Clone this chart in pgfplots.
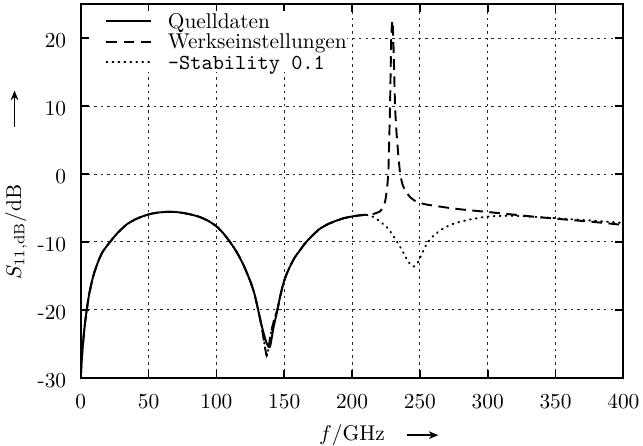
\documentclass[border=0pt]{standalone}
\usepackage{pgfplots}
\pgfplotsset{compat=1.18}
\usetikzlibrary{calc,arrows.meta}

\pgfplotstableread{
f y
0 -30
0.5 -28.2
1 -26.6
1.5 -25.3
2 -24.2
3 -22.2
4.4 -20
6 -17.9
8 -16.0
10 -14.5
13 -12.8
16 -11.5
20 -10.4
24 -9.4
28 -8.5
34 -7.4
40 -6.7
46 -6.2
52 -5.85
58 -5.65
64 -5.57
70 -5.6
76 -5.75
82 -6.0
88 -6.35
94 -6.9
100 -7.7
105 -8.7
110 -10.0
115 -11.5
120 -13.4
125 -15.8
128 -17.6
131 -20.2
134 -22.8
137 -24.9
139.5 -25.4
142 -22.7
145 -20.0
147 -18.0
149.5 -16.0
152 -14.6
155 -13.3
158 -12.2
161.7 -11.2
165 -10.3
170 -9.2
176 -8.1
182 -7.4
188 -6.9
194 -6.5
200 -6.25
205 -6.1
210 -6.0
}\quelle

\pgfplotstableread{
f y
0 -30
0.5 -28.2
1 -26.6
1.5 -25.3
2 -24.2
3 -22.2
4.4 -20
6 -17.9
8 -16.0
10 -14.5
13 -12.8
16 -11.5
20 -10.4
24 -9.4
28 -8.5
34 -7.4
40 -6.7
46 -6.2
52 -5.85
58 -5.65
64 -5.57
70 -5.6
76 -5.75
82 -6.0
88 -6.35
94 -6.9
100 -7.7
105 -8.7
110 -10.0
115 -11.5
120 -13.4
125 -15.8
128 -17.6
131 -20.2
134 -23.2
137.1 -26.7
140 -23.6
142.5 -21.5
145 -19.9
147 -18.0
149.5 -16.0
152 -14.6
155 -13.3
158 -12.2
161.7 -11.2
165 -10.3
170 -9.2
176 -8.1
182 -7.4
188 -6.9
194 -6.5
200 -6.25
205 -6.1
210 -6.0
213 -6.0
217 -5.8
220.6 -5.5
222.5 -5.0
224.3 -4.1
225 -3.3
226 -1.7
226.8 0.5
227.4 5
228.0 10
228.9 20
229.7 22.6
230.4 20
231.7 10
232.8 6
234 3
235.4 0.1
237 -1.4
239 -2.4
242.8 -3.4
246 -3.9
250 -4.25
255 -4.5
260 -4.65
270 -4.95
280 -5.2
290 -5.4
299.3 -5.57
310 -5.8
320 -6.0
335 -6.3
348.4 -6.54
360 -6.75
375 -7.0
388 -7.25
400 -7.5
}\werk

\pgfplotstableread{
f y
0 -30
0.5 -28.2
1 -26.6
1.5 -25.3
2 -24.2
3 -22.2
4.4 -20
6 -17.9
8 -16.0
10 -14.5
13 -12.8
16 -11.5
20 -10.4
24 -9.4
28 -8.5
34 -7.4
40 -6.7
46 -6.2
52 -5.85
58 -5.65
64 -5.57
70 -5.6
76 -5.75
82 -6.0
88 -6.35
94 -6.9
100 -7.7
105 -8.7
110 -10.0
115 -11.5
120 -13.4
125 -15.8
128 -17.6
131 -20.2
134 -23.2
137.1 -26.7
140 -23.6
142.5 -21.5
145 -19.9
147 -18.0
149.5 -16.0
152 -14.6
155 -13.3
158 -12.2
161.7 -11.2
165 -10.3
170 -9.2
176 -8.1
182 -7.4
188 -6.9
194 -6.5
200 -6.25
205 -6.1
210 -6.0
215 -6.25
220 -6.9
225.6 -7.8
230 -9.0
235.4 -10.7
240 -12.4
243 -13.3
245.5 -13.6
248 -13.2
251 -12.0
255 -10.3
260 -9.1
267.3 -8.0
275 -7.3
284.6 -6.8
295 -6.4
304.2 -6.2
315 -6.15
325 -6.2
333.6 -6.3
350 -6.5
365 -6.7
380 -6.9
400 -7.2
}\stab

\begin{document}
\begin{tikzpicture}
\begin{axis}[
  width=254pt, height=175pt, scale only axis,
  xmin=0, xmax=400, ymin=-30, ymax=25,
  xtick={0,50,...,400},
  ytick={-30,-20,-10,0,10,20},
  yticklabels={-30,-20,-10,0,10,20},
  tick align=inside,
  major tick length=3.7pt,
  every tick/.style={black, line width=0.8pt},
  axis line style={line width=0.9pt},
  grid=major,
  major grid style={black!85, line width=0.45pt, dash pattern=on 1.2pt off 1.9pt},
  xticklabel style={yshift=-4.5pt},
  yticklabel style={xshift=-3.3pt, yshift=-1.2pt},
  legend cell align=left,
  legend style={at={(axis description cs:0,1)}, anchor=north west,
    xshift=3.7pt, yshift=-3.1pt,
    draw=none, fill=white, inner xsep=0pt, inner ysep=0pt,
    row sep=0pt, column sep=7.3pt,
    nodes={inner sep=0pt, text height=8.15pt, text depth=1.35pt}},
  legend image code/.code={\path (-7.7pt,0pt); \draw[#1] (0pt,0pt) -- (21pt,0pt);},
]
\addplot[black, line width=0.9pt, smooth, tension=0.4] table[x=f,y=y] {\quelle};
\addlegendentry{Quelldaten}
\addplot[black, line width=0.9pt, dash pattern=on 5pt off 3pt, smooth, tension=0.3] table[x=f,y=y] {\werk};
\addlegendentry{Werkseinstellungen}
\addplot[black, line width=0.9pt, line cap=round, dash pattern=on 0.4pt off 2.4pt, smooth, tension=0.4] table[x=f,y=y] {\stab};
\addlegendentry{\texttt{-Stability 0.1}}
\end{axis}
\node[anchor=base] at ($(current axis.south)+(0,-29.2pt)$) {$f$/GHz};
\draw[line width=0.85pt, -{Stealth[length=4.5pt, width=3.6pt]}] ($(current axis.south)+(25.6pt,-26.8pt)$) -- ++(14.8pt,0);
\node[anchor=base, rotate=90] at ($(current axis.south west)+(-27.9pt,68.2pt)$) {$S_{11,\mathrm{dB}}$/dB};
\draw[line width=0.85pt, -{Stealth[length=4.5pt, width=3.6pt]}] ($(current axis.south west)+(-31pt,117.5pt)$) -- ++(0,17pt);
\pgfresetboundingbox
\path[use as bounding box] ($(current axis.south west)+(-37.8pt,-31.5pt)$) rectangle ($(current axis.north east)+(9.2pt,1.9pt)$);
\end{tikzpicture}
\end{document}
